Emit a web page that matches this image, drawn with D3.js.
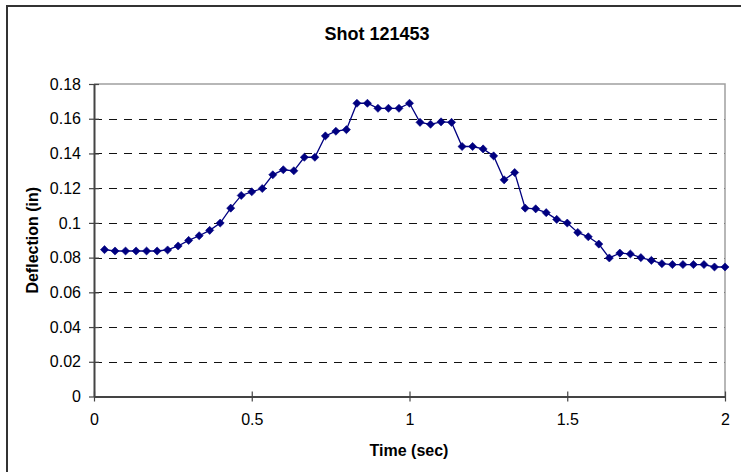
<!DOCTYPE html>
<html>
<head>
<meta charset="utf-8">
<script src="https://cdn.jsdelivr.net/npm/d3@7"></script>
<style>
  html, body { margin: 0; padding: 0; background: #fff; }
  svg { display: block; font-family: "Liberation Sans", Arial, sans-serif; }
</style>
</head>
<body>
<svg id="chart" width="741" height="472"></svg>
<script>
// Deflection readings sampled every 1/30 s
const frames = d3.range(1, 61);
const times = frames.map(k => k / 30);
const deflection = [
  0.0846, 0.0838, 0.0838, 0.0838, 0.0838, 0.0838, 0.0844, 0.0867, 0.0899, 0.0926,
  0.0957, 0.0999, 0.1085, 0.1158, 0.1179, 0.1198, 0.1277, 0.1306, 0.1300, 0.1378,
  0.1378, 0.1501, 0.1528, 0.1537, 0.1689, 0.1689, 0.1660, 0.1660, 0.1660, 0.1689,
  0.1579, 0.1568, 0.1582, 0.1579, 0.1440, 0.1440, 0.1426, 0.1386, 0.1248, 0.1290,
  0.1085, 0.1081, 0.1059, 0.1020, 0.0999, 0.0945, 0.0920, 0.0878, 0.0798, 0.0826,
  0.0821, 0.0800, 0.0784, 0.0765, 0.0760, 0.0760, 0.0760, 0.0760, 0.0746, 0.0746
];
const xTicks = [0, 0.5, 1, 1.5, 2];
const yTicks = [0, 0.02, 0.04, 0.06, 0.08, 0.1, 0.12, 0.14, 0.16, 0.18];

const titleText = "Shot 121453";
const xTitle = "Time (sec)";
const yTitle = "Deflection (in)";

const data = times.map((t, i) => ({ t, v: deflection[i] }));

const svg = d3.select("#chart");
const plot = { left: 94, right: 725, top: 84, bottom: 396.5 };

const x = d3.scaleLinear().domain([0, 2]).range([plot.left, plot.right]);
const y = d3.scaleLinear().domain([0, 0.18]).range([plot.bottom, plot.top]);

// outer frame (runs past the right and bottom edges)
svg.append("rect")
  .attr("x", 7).attr("y", 6)
  .attr("width", 760).attr("height", 490)
  .attr("fill", "#fff")
  .attr("stroke", "#333").attr("stroke-width", 2);

// title
svg.append("text")
  .attr("x", 377).attr("y", 40)
  .attr("text-anchor", "middle")
  .attr("font-size", 18).attr("font-weight", "bold")
  .text(titleText);

// dashed gridlines
svg.append("g")
  .selectAll("line")
  .data(yTicks.filter(v => v > 0 && v < 0.18))
  .join("line")
  .attr("x1", plot.left).attr("x2", plot.right)
  .attr("y1", d => Math.round(y(d)) + 0.5).attr("y2", d => Math.round(y(d)) + 0.5)
  .attr("stroke", "#111").attr("stroke-width", 1)
  .attr("stroke-dasharray", "8,7");

// plot-area border (top and right)
svg.append("path")
  .attr("d", `M${plot.left},${plot.top}H${plot.right}V${plot.bottom}`)
  .attr("fill", "none")
  .attr("stroke", "#a0a0a0").attr("stroke-width", 1.5);

// y axis with crossing ticks
const yAxis = d3.axisLeft(y)
  .tickValues(yTicks)
  .tickFormat(d => d3.format("")(+d.toFixed(2)))
  .tickSizeInner(5).tickSizeOuter(0).tickPadding(8);
const gy = svg.append("g").attr("transform", `translate(${plot.left},0)`).call(yAxis);
gy.select(".domain").attr("stroke", "#444").attr("stroke-width", 2);
gy.selectAll(".tick line").attr("x1", 5).attr("x2", -5).attr("stroke", "#444").attr("stroke-width", 1.2);
gy.selectAll(".tick text").attr("font-size", 16).attr("fill", "#000")
  .attr("font-family", "Liberation Sans, Arial, sans-serif");

// x axis with crossing ticks
const xAxis = d3.axisBottom(x)
  .tickValues(xTicks)
  .tickFormat(d => String(d))
  .tickSizeInner(5).tickSizeOuter(0).tickPadding(12);
const gx = svg.append("g").attr("transform", `translate(0,${plot.bottom})`).call(xAxis);
gx.select(".domain").attr("stroke", "#444").attr("stroke-width", 2);
gx.selectAll(".tick line").attr("y1", -5).attr("y2", 5).attr("stroke", "#444").attr("stroke-width", 1.2);
gx.selectAll(".tick text").attr("font-size", 16).attr("fill", "#000")
  .attr("font-family", "Liberation Sans, Arial, sans-serif");

// axis titles
svg.append("text")
  .attr("x", 409).attr("y", 456)
  .attr("text-anchor", "middle")
  .attr("font-size", 16).attr("font-weight", "bold")
  .text(xTitle);

svg.append("text")
  .attr("transform", `translate(38,${(plot.top + plot.bottom) / 2}) rotate(-90)`)
  .attr("text-anchor", "middle")
  .attr("font-size", 16).attr("font-weight", "bold")
  .text(yTitle);

// series line
const line = d3.line().x(d => x(d.t)).y(d => y(d.v));
svg.append("path")
  .datum(data)
  .attr("d", line)
  .attr("fill", "none")
  .attr("stroke", "#000080").attr("stroke-width", 1.3);

// diamond markers
const diamond = d3.symbol().type(d3.symbolDiamond2).size(42);
svg.append("g")
  .selectAll("path")
  .data(data)
  .join("path")
  .attr("transform", d => `translate(${x(d.t)},${y(d.v)})`)
  .attr("d", diamond)
  .attr("fill", "#000080")
  .attr("stroke", "#000080").attr("stroke-width", 0.6);
</script>
</body>
</html>
